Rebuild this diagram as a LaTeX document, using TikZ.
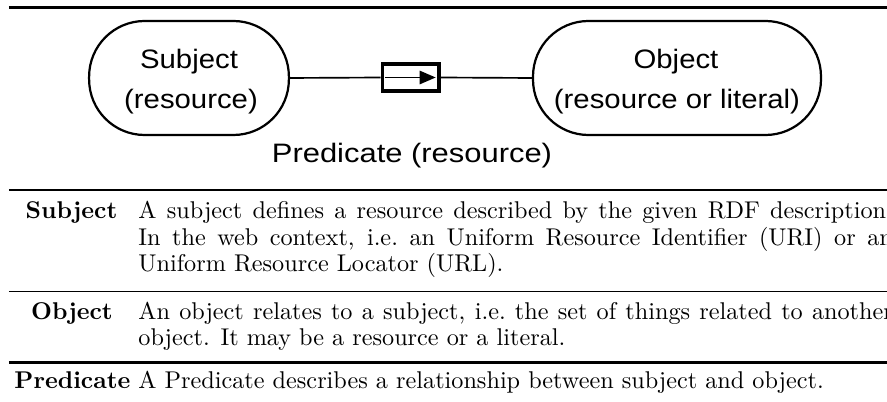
\documentclass[tikz,border=0pt]{standalone}
\usepackage{fontspec}
\usepackage{graphicx}
\newfontfamily\arialfont{Liberation Sans}
\usetikzlibrary{arrows.meta}
\newcommand{\widetxt}[2][1.1]{\scalebox{#1}[1]{#2}}
\begin{document}
\begin{tikzpicture}[x=0.45pt,y=-0.45pt,
  pill/.style={draw, line width=1pt, rounded corners=25pt, minimum height=51.3pt, inner sep=0pt},
  dtext/.style={font=\arialfont\fontsize{12}{14}\selectfont, inner sep=0pt, anchor=base},
  lbl/.style={font=\fontsize{10.9}{13}\selectfont\bfseries, inner sep=0pt, anchor=base},
  desc/.style={font=\fontsize{10.9}{13}\selectfont, inner sep=0pt, anchor=base west},
  conn/.style={line width=0.75pt},
  heavyrule/.style={line width=1.1pt},
  thinrule/.style={line width=0.7pt},
  bottomrule/.style={line width=1.6pt}
]
\useasboundingbox (0,0) rectangle (887,402);
\clip (0,0) rectangle (887,402);

% rules
\draw[heavyrule] (9,7.5) -- (900,7.5);
\draw[heavyrule] (9,190) -- (900,190);
\draw[thinrule] (9,291.7) -- (900,291.7);
\draw[bottomrule] (9,362.5) -- (900,362.5);

% diagram
\node[pill, minimum width=89.9pt] (subj) at (189,78) {};
\node[pill, minimum width=129.6pt] (obj) at (677,78) {};
\node[dtext] (subjA) at (189,69) {\widetxt{Subject}};
\node[dtext] (subjB) at (191,109) {\widetxt{(resource)}};
\node[dtext] (objA) at (676,69) {\widetxt{Object}};
\node[dtext] (objB) at (677,109) {\widetxt{(resource or literal)}};
\node[draw, line width=1.5pt, minimum width=25.5pt, minimum height=12.2pt, inner sep=0pt] (pbox) at (410.7,77.5) {};
\draw[conn] (subj.east) -- (pbox.west);
\draw[conn] (pbox.east) -- (obj.west);
\draw[conn, -{Triangle[length=7.2pt,width=6pt]}] ([xshift=2pt]pbox.west) -- ([xshift=-2.25pt]pbox.east);
\node[dtext] (pred) at (412,162.5) {\widetxt[1.16]{Predicate (resource)}};

% table
\node[lbl] (lsubj) at (71.5,218.5) {Subject};
\node[desc] (s1) at (138,218.5) {\makebox[339.5pt][s]{A subject defines a resource described by the given RDF description.}};
\node[desc] (s2) at (138,245.5) {\makebox[339.5pt][s]{In the web context, i.e.\ an Uniform Resource Identifier (URI) or an}};
\node[desc] (s3) at (138,272) {Uniform Resource Locator (URL).};
\node[lbl] (lobj) at (72,319.5) {Object};
\node[desc] (o1) at (138,319.5) {\makebox[339.5pt][s]{An object relates to a subject, i.e.\ the set of things related to another}};
\node[desc] (o2) at (138,345.5) {object. It may be a resource or a literal.};
\node[lbl] (lpred) at (72.5,389) {Predicate};
\node[desc] (p1) at (138,389) {A Predicate describes a relationship between subject and object.};
\end{tikzpicture}
\end{document}
